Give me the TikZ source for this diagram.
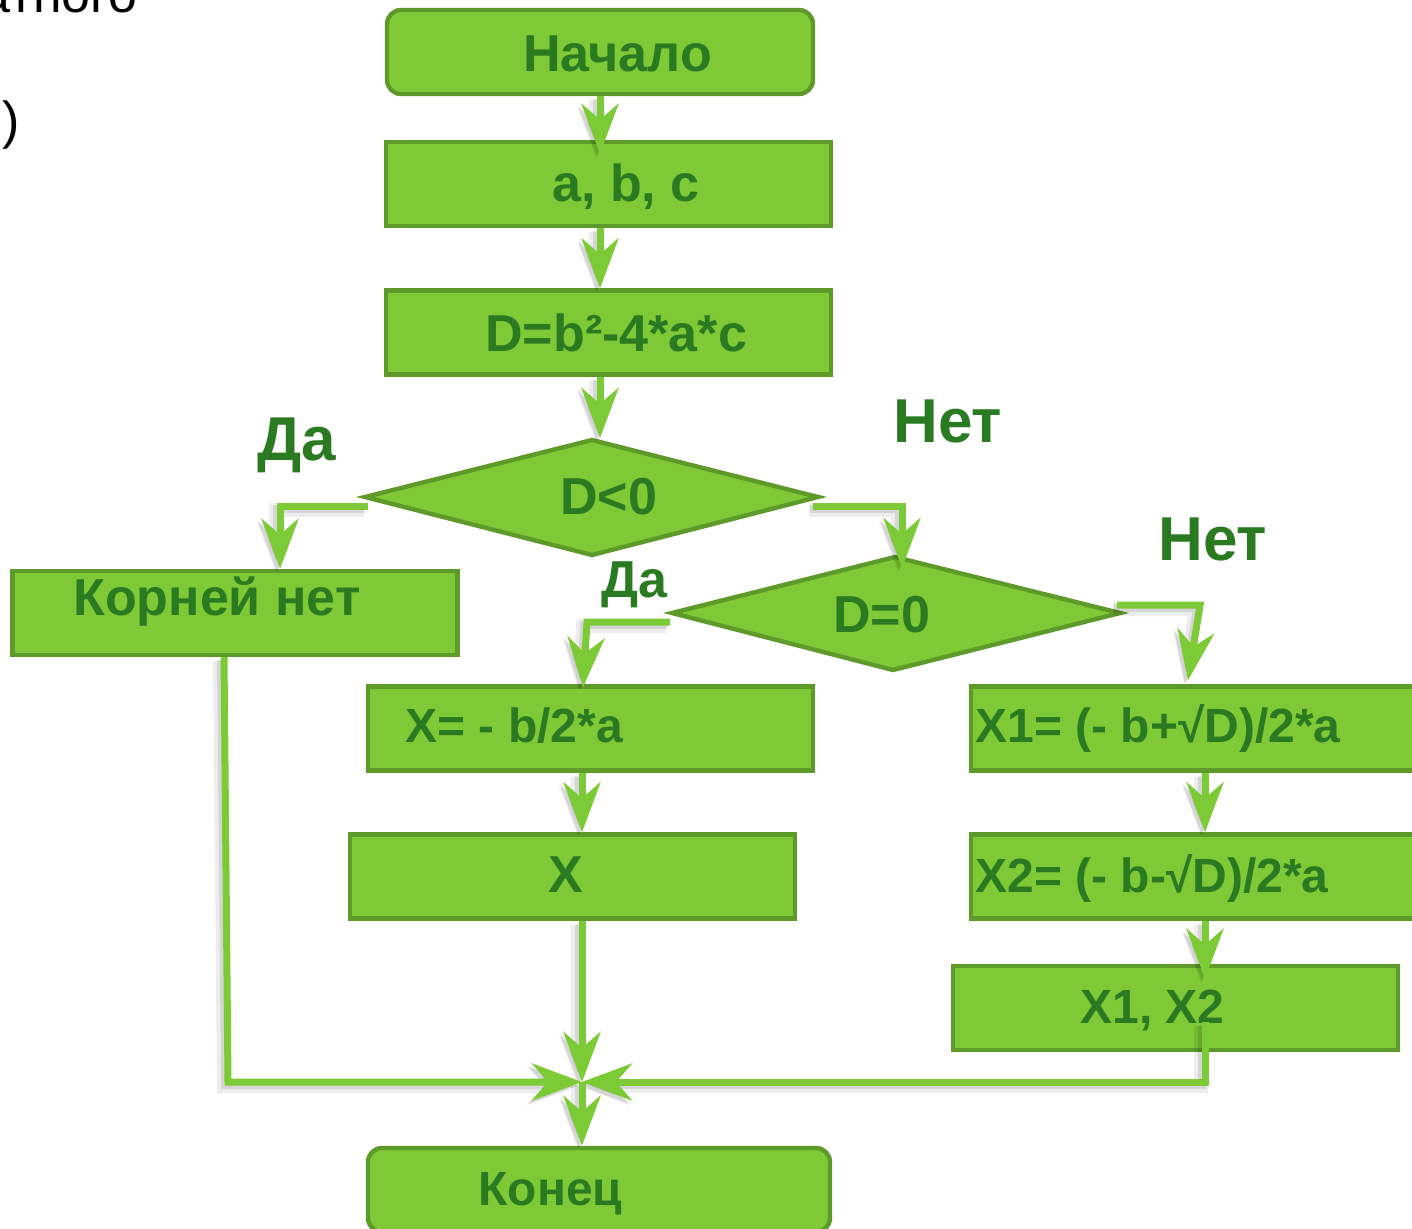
\documentclass[tikz,border=0pt]{standalone}
\usepackage{fontspec}
\setmainfont{Liberation Sans}
\usetikzlibrary{arrows.meta}
\definecolor{boxfill}{HTML}{7FC936}
\definecolor{boxline}{HTML}{5E9A2A}
\definecolor{ink}{HTML}{2A7A22}
\definecolor{flow}{HTML}{7CCB36}
\begin{document}
\begin{tikzpicture}[x=0.5pt,y=-0.5pt,
  box/.style={draw=boxline, line width=2.2pt, fill=boxfill, inner sep=0pt,
              minimum width=222.5pt, minimum height=42pt},
  term/.style={box, rounded corners=7pt},
  dia/.style={draw=boxline, line width=2.2pt, fill=boxfill, line join=miter},
  txt/.style={text=ink, font=\bfseries\fontsize{26pt}{30pt}\selectfont,
              inner sep=0pt, anchor=base west},
  small/.style={txt, font=\bfseries\fontsize{24pt}{28pt}\selectfont},
  big/.style={txt, font=\bfseries\fontsize{31pt}{36pt}\selectfont},
  plain/.style={inner sep=0pt, anchor=base west, font=\fontsize{26pt}{30pt}\selectfont},
  flowline/.style={draw=flow, line width=3.5pt, line join=miter,
              preaction={draw=black, opacity=0.07, line width=7pt,
                         transform canvas={shift={(-2pt,-2pt)}}},
              preaction={draw=black, opacity=0.10, line width=4pt,
                         transform canvas={shift={(-1.5pt,-1.5pt)}}}},
  arr/.style={flowline, -{Stealth[length=25pt, width=18.5pt, inset=8pt]}}
]
\useasboundingbox (0,0) rectangle (1412,1229);
\clip (0,0) rectangle (1412,1229);

% heading fragments
\node[plain] (head) at (-19,13) {атного};
\node[plain] (paren) at (2,139) {)};

% blocks
\node[term, minimum width=213pt] (start) at (600,52) {};
\node[box] (inp)  at (608.5,184) {};
\node[box] (calc) at (608.5,332.5) {};
\node[box] (korn) at (235,613) {};
\node[box] (xeq)  at (590.5,728.5) {};
\node[box] (xout) at (572.5,876.5) {};
\node[box] (xa)   at (1193.5,728.5) {};
\node[box] (xb)   at (1193.5,876.5) {};
\node[box] (xab)  at (1175.5,1008) {};
\node[term, minimum width=231pt] (stop) at (599,1190) {};

% decisions
\coordinate (d1l) at (365,497);
\coordinate (d1t) at (592,440);
\coordinate (d1r) at (818,497);
\coordinate (d1b) at (592,555);
\draw[dia] (d1l) -- (d1t) -- (d1r) -- (d1b) -- cycle;
\coordinate (d2l) at (672,613);
\coordinate (d2t) at (895,557);
\coordinate (d2r) at (1120,613);
\coordinate (d2b) at (893,670);
\draw[dia] (d2l) -- (d2t) -- (d2r) -- (d2b) -- cycle;

% texts
\node[txt] (tstart) at (523,72) {Начало};
\node[txt] (tinp)   at (552,202) {a, b, c};
\node[txt] (tcalc)  at (485,352) {D=b²-4*a*c};
\node[txt] (td1)    at (560,515) {D<0};
\node[txt] (tkorn)  at (73,615) {Корней нет};
\node[txt] (td2)    at (833,632) {D=0};
\node[small] (txeq) at (405,742) {X= - b/2*a};
\node[txt] (txout)  at (548,892) {X};
\node[small] (txa)  at (975,742) {X1= (- b+√D)/2*a};
\node[small] (txb)  at (975,892) {X2= (- b-√D)/2*a};
\node[small] (txab) at (1080,1023) {X1, X2};
\node[small] (tstop) at (478,1205) {Конец};
\node[big] (yes1)   at (257,460) {Да};
\node[big] (no1)    at (893,443) {Нет};
\node[big] (no2)    at (1158,560) {Нет};
\node[txt] (yes2)   at (601,597) {Да};

% connectors
\coordinate (axis) at (600,0);
\coordinate (join) at (582,1082);
\coordinate (rline) at (1205,1082);
\coordinate (rtop) at (1205,1022);
\coordinate (lcorner) at (228,1082);

\draw[arr, shorten >=-7pt] (start.south) -- (start.south |- inp.north);
\draw[arr] (axis |- inp.south) -- (axis |- calc.north);
\draw[arr] (axis |- calc.south) -- ([yshift=1pt]axis |- d1t);
\draw[arr] ([shift={(3,9)}]d1l) -| ([shift={(45,0)}]korn.north);
\draw[arr] ([shift={(-5,9)}]d1r) -| ([shift={(7,11)}]d2t);
\draw[arr] ([shift={(-2,9)}]d2l) -- ++(-83,0) -- ([shift={(-7.5,3)}]xeq.north);
\draw[arr] ([shift={(-3,-8)}]d2r) -- ++(83,0) -- ([shift={(-5.5,-4)}]xa.north);
\draw[arr] (join |- xeq.south) -- (join |- xout.north);
\draw[arr] (rline |- xa.south) -- (rline |- xb.north);
\draw[arr, shorten >=-7.5pt] (rline |- xb.south) -- (rline |- xab.north);
\draw[arr] (join |- xout.south) -- (join);
\draw[arr] (rtop) -- (rline) -- (join);
\draw[arr] ([shift={(-11,0)}]korn.south) -- (lcorner) -- (join);
\draw[arr] (join) -- (join |- stop.north);
\end{tikzpicture}
\end{document}
